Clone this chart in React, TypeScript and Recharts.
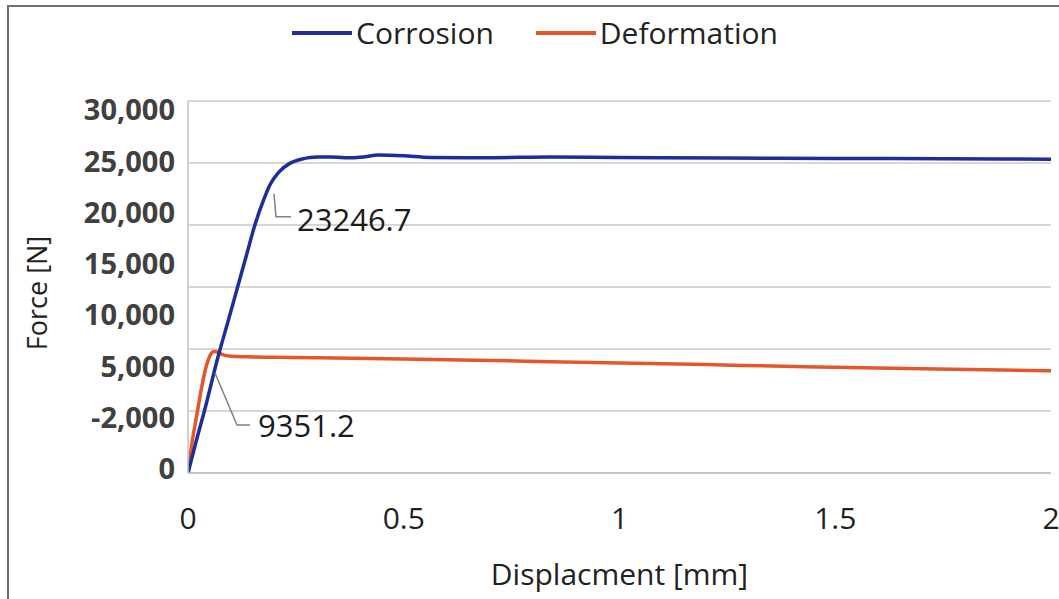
import React from 'react';
import { LineChart, Line, XAxis, YAxis, CartesianGrid, Legend } from 'recharts';

const displacementCorrosion = [0, 0.02, 0.038, 0.0695, 0.095, 0.115, 0.135, 0.155, 0.175, 0.19, 0.21, 0.235, 0.26, 0.29, 0.33, 0.38, 0.41, 0.44, 0.5, 0.56, 0.7, 0.84, 1.0, 1.25, 1.5, 1.75, 2.0];
const forceCorrosion = [0, 2700, 5000, 9351.2, 12500, 15000, 17500, 20000, 22000, 23246.7, 24250, 24950, 25280, 25470, 25480, 25420, 25500, 25640, 25580, 25450, 25430, 25480, 25440, 25400, 25370, 25340, 25300];

const displacementDeformation = [0, 0.01, 0.02, 0.03, 0.04, 0.05, 0.06, 0.07, 0.08, 0.1, 0.15, 0.2, 0.3, 0.5, 0.7, 0.84, 1.0, 1.2, 1.43, 1.7, 2.0];
const forceDeformation = [0, 2600, 4600, 6600, 8300, 9400, 9800, 9750, 9550, 9420, 9360, 9330, 9290, 9190, 9080, 8980, 8880, 8740, 8570, 8400, 8250];

const xTicks = [0, 0.5, 1, 1.5, 2];
const gridTicks = [0, 5000, 10000, 15000, 20000, 25000, 30000];
const yTickLabels = ['0', '-2,000', '5,000', '10,000', '15,000', '20,000', '25,000', '30,000'];
const yLabelTicks = [0, 1, 2, 3, 4, 5, 6, 7];

const seriesNames = ['Corrosion', 'Deformation'];
const seriesColors = ['#1f2d9b', '#e4572b'];

const annotationX = [0.19, 0.0695];
const annotationText = ['23246.7', '9351.2'];

const xTitle = 'Displacment [mm]';
const yTitle = 'Force [N]';

const FONT = "'Open Sans', sans-serif";

// leader line geometry (style only, offsets from the data point)
const leaderStyles = [
  { path: [[4, 9], [6, 32], [21, 32]], tx: 27, ty: 34 },
  { path: [[-3, 16], [19, 68], [32, 68]], tx: 40, ty: 68 },
];

const corrosionData = displacementCorrosion.map((x, i) => {
  const k = annotationX.indexOf(x);
  return { x, force: forceCorrosion[i], note: k >= 0 ? k : -1 };
});
const deformationData = displacementDeformation.map((x, i) => ({ x, force: forceDeformation[i], note: -1 }));

const AnnotDot = (props: any) => {
  const { cx, cy, payload, index } = props;
  if (!payload || payload.note < 0 || cx == null || cy == null) return <g key={`d-${index}`} />;
  const st = leaderStyles[payload.note];
  const pts = st.path.map(([dx, dy]) => `${cx + dx},${cy + dy}`).join(' ');
  return (
    <g key={`d-${index}`}>
      <polyline points={pts} fill="none" stroke="#808080" strokeWidth={1.5} />
      <text x={cx + st.tx} y={cy + st.ty} dominantBaseline="central" fontFamily={FONT} fontSize={31} fill="#1a1a1a">
        {annotationText[payload.note]}
      </text>
    </g>
  );
};

const LegendContent = () => (
  <div style={{ display: 'flex', alignItems: 'center', fontFamily: FONT, fontSize: 30, lineHeight: '34px', color: '#222' }}>
    {seriesNames.map((n, i) => (
      <div key={n} style={{ display: 'flex', alignItems: 'center', marginRight: i === 0 ? 42 : 0 }}>
        <span style={{ display: 'inline-block', width: 60, height: 4, background: seriesColors[i], marginRight: 4 }} />
        <span>{n}</span>
      </div>
    ))}
  </div>
);

export default function App() {
  return (
    <div style={{ position: 'absolute', left: 0, top: 0, width: 1059, height: 599, overflow: 'hidden', background: '#fff' }}>
      <div style={{ position: 'absolute', left: 7, top: 5, width: 1200, height: 800, border: '2px solid #707070' }} />
      <div style={{ position: 'absolute', left: 0, top: 0 }}>
        <LineChart width={1059} height={599} margin={{ top: 101, right: 8, bottom: 0, left: 0 }}>
          <CartesianGrid yAxisId="force" vertical={false} stroke="#c8c8c8" strokeWidth={1.5} />
          <XAxis
            type="number"
            dataKey="x"
            domain={[0, 2]}
            ticks={xTicks}
            allowDataOverflow
            height={126}
            tickLine={false}
            tickSize={0}
            tickMargin={35}
            axisLine={{ stroke: '#c0c0c0', strokeWidth: 1.5 }}
            tick={{ fontFamily: FONT, fontSize: 30, fill: '#1f1f1f' }}
            label={{ value: xTitle, position: 'insideBottom', offset: 14, fontFamily: FONT, fontSize: 30, fill: '#222' }}
          />
          <YAxis
            yAxisId="labels"
            type="number"
            domain={[-0.078, 7.175]}
            ticks={yLabelTicks}
            allowDataOverflow
            width={188}
            tickLine={false}
            tickSize={0}
            tickMargin={13}
            axisLine={{ stroke: '#c0c0c0', strokeWidth: 1.5 }}
            tickFormatter={(v: number) => yTickLabels[v] ?? ''}
            tick={{ fontFamily: FONT, fontSize: 29, fontWeight: 700, fill: '#404040' }}
          />
          <YAxis yAxisId="force" type="number" domain={[0, 30000]} ticks={gridTicks} allowDataOverflow hide width={0} />
          <Legend verticalAlign="middle" align="center" content={LegendContent} wrapperStyle={{ top: 16, left: 292, width: 560, height: 34 }} />
          <Line
            yAxisId="force"
            data={deformationData}
            dataKey="force"
            name={seriesNames[1]}
            type="monotone"
            stroke={seriesColors[1]}
            strokeWidth={3.5}
            dot={false}
            isAnimationActive={false}
          />
          <Line
            yAxisId="force"
            data={corrosionData}
            dataKey="force"
            name={seriesNames[0]}
            type="monotone"
            stroke={seriesColors[0]}
            strokeWidth={3.5}
            dot={AnnotDot}
            activeDot={false}
            isAnimationActive={false}
          />
        </LineChart>
      </div>
      <div
        style={{
          position: 'absolute',
          left: 37,
          top: 293,
          transform: 'translate(-50%, -50%) rotate(-90deg)',
          whiteSpace: 'nowrap',
          fontFamily: FONT,
          fontSize: 27,
          lineHeight: '32px',
          color: '#222',
        }}
      >
        {yTitle}
      </div>
    </div>
  );
}
